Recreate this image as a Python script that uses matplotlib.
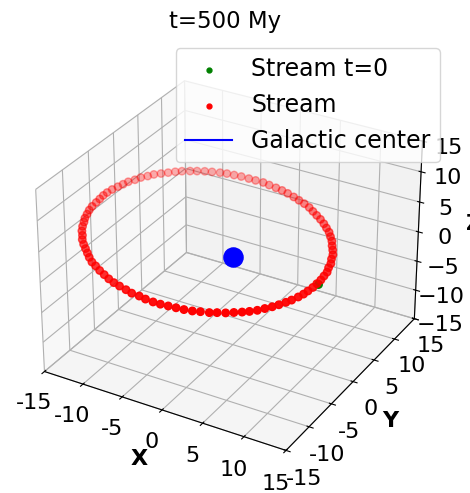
import matplotlib
matplotlib.use("Agg")
import matplotlib.pyplot as plt

# Stream particles at t=500 My
stream_x = [10.6, 10.6, 10.5, 10.4, 10.2, 9.9, 9.6, 9.2, 8.8, 8.3, 7.8, 7.2, 6.6, 5.9, 5.2, 4.4, 3.7, 2.8, 2.0, 1.1, 0.2, -0.7, -1.6, -2.5, -3.5,
            -4.4, -5.4, -6.3, -7.3, -8.2, -9.1, -10.0, -10.9, -11.8, -12.6, -13.4, -14.1, -14.8, -15.5, -16.2, -16.7, -17.3, -17.8, -18.2, -18.6, -18.9, -19.2, -19.4, -19.5, -19.6,
            -19.7, -19.7, -19.6, -19.4, -19.2, -19.0, -18.6, -18.3, -17.8, -17.4, -16.8, -16.2, -15.6, -15.0, -14.2, -13.5, -12.7, -11.9, -11.0, -10.2, -9.3, -8.4, -7.4, -6.5, -5.5,
            -4.6, -3.6, -2.7, -1.8, -0.8, 0.1, 1.0, 1.9, 2.7, 3.5, 4.3, 5.1, 5.8, 6.5, 7.1, 7.7, 8.2, 8.7, 9.2, 9.5, 9.9, 10.1, 10.4, 10.5, 10.6]
stream_y = [-0.5, -1.4, -2.3, -3.1, -3.9, -4.8, -5.5, -6.3, -7.0, -7.7, -8.4, -9.0, -9.5, -10.0, -10.5, -10.9, -11.3, -11.6, -11.9, -12.1, -12.2, -12.3, -12.4, -12.4, -12.3,
            -12.1, -12.0, -11.7, -11.4, -11.1, -10.7, -10.2, -9.7, -9.1, -8.6, -7.9, -7.2, -6.5, -5.8, -5.0, -4.2, -3.4, -2.5, -1.6, -0.8, 0.1, 1.0, 1.9, 2.9, 3.8,
            4.7, 5.5, 6.4, 7.3, 8.1, 8.9, 9.7, 10.5, 11.2, 11.9, 12.5, 13.1, 13.7, 14.2, 14.7, 15.1, 15.5, 15.8, 16.1, 16.3, 16.4, 16.5, 16.5, 16.5, 16.5,
            16.3, 16.1, 15.9, 15.6, 15.2, 14.8, 14.4, 13.9, 13.3, 12.7, 12.1, 11.4, 10.7, 10.0, 9.2, 8.4, 7.5, 6.7, 5.8, 4.9, 4.0, 3.1, 2.2, 1.3, 0.4]
stream_z = 0.0

# Stream at t=0
t0_x = [10.7]
t0_y = [-0.5]
t0_z = [0.0]

# Galactic center
gc_x = [0.0]
gc_y = [0.0]
gc_z = [0.0]

ticks = [-15, -10, -5, 0, 5, 10, 15]
tick_labels = ['-15', '-10', '-5', '0', '5', '10', '15']
title = 't=500 My'

plt.rcParams['font.size'] = 16

fig = plt.figure(figsize=(4.7, 4.93), dpi=100)
ax = fig.add_subplot(projection='3d', computed_zorder=False)
ax.set_position([0.0255, 0.010, 0.915, 0.915])

ax.scatter(t0_x, t0_y, t0_z, color='green', s=29, label='Stream t=0', zorder=1)
ax.scatter(stream_x, stream_y, stream_z, color='red', s=29, label='Stream', zorder=2)
ax.plot(gc_x, gc_y, gc_z, color='blue', label='Galactic center', zorder=3)
ax.scatter(gc_x, gc_y, gc_z, color='blue', s=190, zorder=3)

ax.set_xlim(-15, 15)
ax.set_ylim(-15, 15)
ax.set_zlim(-15, 15)
ax.set_xticks(ticks)
ax.set_xticklabels(tick_labels)
ax.set_yticks(ticks)
ax.set_yticklabels(tick_labels)
ax.set_zticks(ticks)
ax.set_xlabel('X', fontweight='bold')
ax.set_ylabel('Y', fontweight='bold')
ax.set_zlabel('Z', fontweight='bold')
fig.text(0.479, 0.957, title, ha='center', va='center', fontsize=16.5)
ax.legend(loc='upper right', bbox_to_anchor=(0.936, 0.903), bbox_transform=fig.transFigure,
          borderaxespad=0, markerscale=0.65, fontsize=17)

fig.savefig('out.png', dpi=100)
